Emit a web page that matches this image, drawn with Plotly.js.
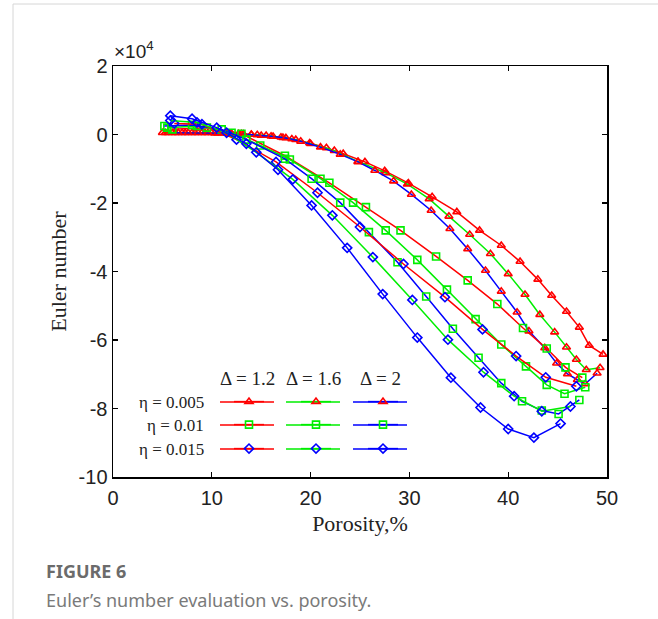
<!DOCTYPE html>
<html>
<head>
<meta charset="utf-8">
<script src="https://cdn.plot.ly/plotly-3.0.1.min.js"></script>
<style>html,body{margin:0;padding:0;background:#fff;}#chart{width:658px;height:619px;}</style>
</head>
<body>
<div id="chart"></div>
<script>
// Euler number values in units of 1e4, porosity in %
// eta = 0.005 (triangles)
const triRedX = [5,6,7,8,9,10,11,12,13,14,15,16.2,17.2,18.1,19.9,21.6,23.3,25.5,27.5,29.9,32.3,34.8,37.1,39.3,41.2,43.0,44.4,45.9,47.2,48.2,49.6];
const triRedY = [0.05,0.05,0.05,0.05,0.05,0.05,0.04,0.03,0.02,0.0,-0.03,-0.06,-0.09,-0.13,-0.25,-0.39,-0.56,-0.8,-1.06,-1.42,-1.82,-2.26,-2.8,-3.24,-3.71,-4.23,-4.7,-5.17,-5.63,-6.16,-6.42];
const triGreenX = [5.3,6.3,7.3,8.3,9.3,10.3,11.5,12.7,14,15.5,17,18.5,20,22.4,24.8,27.6,29.8,32.0,34.0,36.1,38.2,40.0,41.7,43.2,44.7,45.9,46.9,47.9,49.3];
const triGreenY = [0.05,0.05,0.05,0.05,0.05,0.04,0.03,0.02,0.0,-0.03,-0.08,-0.15,-0.27,-0.47,-0.79,-1.12,-1.45,-1.88,-2.39,-2.92,-3.48,-4.07,-4.67,-5.26,-5.77,-6.21,-6.57,-6.87,-6.81];
const triBlueX = [5.6,6.6,7.6,8.6,9.6,10.6,11.8,13.2,14.6,16,17.5,19,21.0,23.0,24.8,26.5,28.4,30.2,32.2,34.1,35.9,37.7,39.3,40.9,42.1,43.7,44.9,46.0,47.0,47.8,49.0];
const triBlueY = [0.05,0.05,0.05,0.05,0.05,0.04,0.03,0.01,-0.01,-0.05,-0.1,-0.2,-0.37,-0.58,-0.8,-1.05,-1.36,-1.75,-2.22,-2.75,-3.34,-3.97,-4.58,-5.19,-5.74,-6.23,-6.68,-6.99,-7.16,-7.28,-6.97];
// eta = 0.01 (squares)
const sqRedX = [6.0,9.5,13.0,17.4,21.9,25.6,29.1,32.7,35.9,38.9,41.5,43.9,45.8,47.5];
const sqRedY = [0.15,0.2,0.02,-0.62,-1.41,-2.12,-2.8,-3.56,-4.26,-4.95,-5.65,-6.25,-6.8,-7.1];
const sqGreenX = [5.5,8.5,12.0,14.9,17.9,21.0,24.3,27.6,30.8,33.8,36.7,39.3,41.8,43.9,45.7,47.8];
const sqGreenY = [0.2,0.25,0.05,-0.32,-0.73,-1.29,-1.99,-2.8,-3.66,-4.53,-5.39,-6.13,-6.77,-7.31,-7.57,-7.38];
const sqBlueX = [5.2,8.0,11.0,13.5,17.4,20.1,23.0,25.9,28.8,31.7,34.4,37.0,39.3,41.4,43.4,45.1,47.2];
const sqBlueY = [0.25,0.28,0.15,-0.15,-0.71,-1.29,-1.99,-2.85,-3.73,-4.73,-5.67,-6.52,-7.26,-7.79,-8.06,-8.16,-7.75];
// eta = 0.015 (diamonds)
const diaRedX = [6.2,9.0,12.5,16.5,20.7,25.0,29.4,33.6,37.4,40.8,43.8,46.9];
const diaRedY = [0.32,0.3,-0.15,-0.8,-1.7,-2.7,-3.78,-4.75,-5.69,-6.47,-7.09,-7.35];
const diaGreenX = [5.8,8.5,11.5,14.5,18.2,22.2,26.3,30.3,33.9,37.5,40.6,43.4,46.3];
const diaGreenY = [0.41,0.35,0.05,-0.52,-1.31,-2.36,-3.58,-4.83,-5.99,-6.94,-7.64,-8.08,-7.94];
const diaBlueX = [5.8,8.0,10.5,13.5,16.7,20.1,23.7,27.3,30.8,34.2,37.2,40.0,42.6,45.3];
const diaBlueY = [0.55,0.46,0.2,-0.27,-1.03,-2.07,-3.31,-4.66,-5.93,-7.1,-7.97,-8.6,-8.85,-8.44];

const deltaLabels = ['Δ = 1.2','Δ = 1.6','Δ = 2'];
const etaLabels = ['η = 0.005','η = 0.01','η = 0.015'];
const xTicks = [0,10,20,30,40,50];
const yTicks = [-10,-8,-6,-4,-2,0,2];

const lineColors = ['#ff0000','#00ee00','#0000ff'];
const markerColors = ['#ff0000','#00ee00','#0000ff'];
const symbols = ['triangle-up-open','square-open','diamond-open'];
const legendIds = ['legend','legend2','legend3'];

const series = [
  [[triRedX,triRedY],[triGreenX,triGreenY],[triBlueX,triBlueY]],
  [[sqRedX,sqRedY],[sqGreenX,sqGreenY],[sqBlueX,sqBlueY]],
  [[diaRedX,diaRedY],[diaGreenX,diaGreenY],[diaBlueX,diaBlueY]]
];

const traces = [];
series.forEach((row, ei) => {
  row.forEach((s, di) => {
    traces.push({
      x: s[0], y: s[1], type: 'scatter', mode: 'lines+markers',
      name: ' ', legend: legendIds[ei],
      line: {color: lineColors[di], width: 1.5},
      marker: {symbol: symbols[ei], size: 7, color: markerColors[ei], line: {width: 1.6, color: markerColors[ei]}}
    });
  });
});

const px2x = p => (p - 113) / 494;
const px2y = p => (477 - p) / 411;

const colX = [247, 313, 380];
const rowY = [402, 425, 449];
const legendBase = {orientation: 'h', entrywidth: 22, entrywidthmode: 'pixels', bgcolor: 'rgba(0,0,0,0)',
  font: {family: 'Liberation Serif', size: 14}, xanchor: 'left', yanchor: 'middle', itemwidth: 30, tracegroupgap: 0};

const annotations = [];
deltaLabels.forEach((t, i) => annotations.push({text: t, xref: 'paper', yref: 'paper', x: px2x(colX[i]), y: px2y(378),
  showarrow: false, xanchor: 'center', yanchor: 'middle', font: {family: 'Liberation Serif', size: 19, color: '#222'}}));
etaLabels.forEach((t, i) => annotations.push({text: t, xref: 'paper', yref: 'paper', x: px2x(206), y: px2y(rowY[i]),
  showarrow: false, xanchor: 'right', yanchor: 'middle', font: {family: 'Liberation Serif', size: 17, color: '#222'}}));
annotations.push({text: '×10<sup>4</sup>', xref: 'paper', yref: 'paper', x: px2x(112), y: px2y(50), showarrow: false,
  xanchor: 'left', yanchor: 'middle', font: {family: 'Liberation Sans', size: 19, color: '#222'}});
annotations.push({text: '<b>FIGURE 6</b>', xref: 'paper', yref: 'paper', x: px2x(44), y: px2y(571), showarrow: false,
  xanchor: 'left', yanchor: 'middle', font: {family: 'Noto Sans', size: 18, color: '#6b6b6b'}});
annotations.push({text: 'Euler’s number evaluation vs. porosity.', xref: 'paper', yref: 'paper', x: px2x(44), y: px2y(600), showarrow: false,
  xanchor: 'left', yanchor: 'middle', font: {family: 'Noto Sans', size: 18, color: '#7a7a7a'}});

// legend sample lines extended to the reference length
const shapes = [{type: 'rect', xref: 'paper', yref: 'paper', x0: px2x(13), x1: px2x(700), y0: px2y(700), y1: px2y(4),
  line: {color: '#d6d6d6', width: 1}, layer: 'below'}];
rowY.forEach(ry => colX.forEach((cx, ci) => shapes.push({type: 'line', xref: 'paper', yref: 'paper',
  x0: px2x(cx - 27), x1: px2x(cx + 27), y0: px2y(ry), y1: px2y(ry), line: {color: lineColors[ci], width: 1.5}, layer: 'above'})));

const layout = {
  width: 658, height: 619,
  margin: {l: 113, r: 51, t: 66, b: 142, pad: 0},
  paper_bgcolor: '#fff', plot_bgcolor: '#fff',
  showlegend: true,
  xaxis: {range: [0, 50], tickvals: xTicks, ticktext: xTicks.map(String), ticks: 'inside', ticklen: 5, tickwidth: 1.2,
    tickcolor: '#000', showline: true, linecolor: '#000', linewidth: 1.5, mirror: 'ticks', showgrid: false, zeroline: false,
    tickfont: {family: 'Liberation Sans', size: 20, color: '#222'}, ticklabelstandoff: 2,
    title: {text: 'Porosity,%', font: {family: 'Liberation Serif', size: 22, color: '#222'}, standoff: 8}},
  yaxis: {range: [-10, 2], tickvals: yTicks, ticktext: yTicks.map(String), ticks: 'inside', ticklen: 5, tickwidth: 1.2,
    tickcolor: '#000', showline: true, linecolor: '#000', linewidth: 1.5, mirror: 'ticks', showgrid: false, zeroline: false,
    tickfont: {family: 'Liberation Sans', size: 20, color: '#222'},
    title: {text: 'Euler number', font: {family: 'Liberation Serif', size: 22, color: '#222'}, standoff: 6}},
  legend: Object.assign({}, legendBase, {x: px2x(colX[0] - 18), y: px2y(rowY[0])}),
  legend2: Object.assign({}, legendBase, {x: px2x(colX[0] - 18), y: px2y(rowY[1])}),
  legend3: Object.assign({}, legendBase, {x: px2x(colX[0] - 18), y: px2y(rowY[2])}),
  annotations: annotations,
  shapes: shapes
};

Plotly.newPlot('chart', traces, layout, {displayModeBar: false, staticPlot: true});
</script>
</body>
</html>
